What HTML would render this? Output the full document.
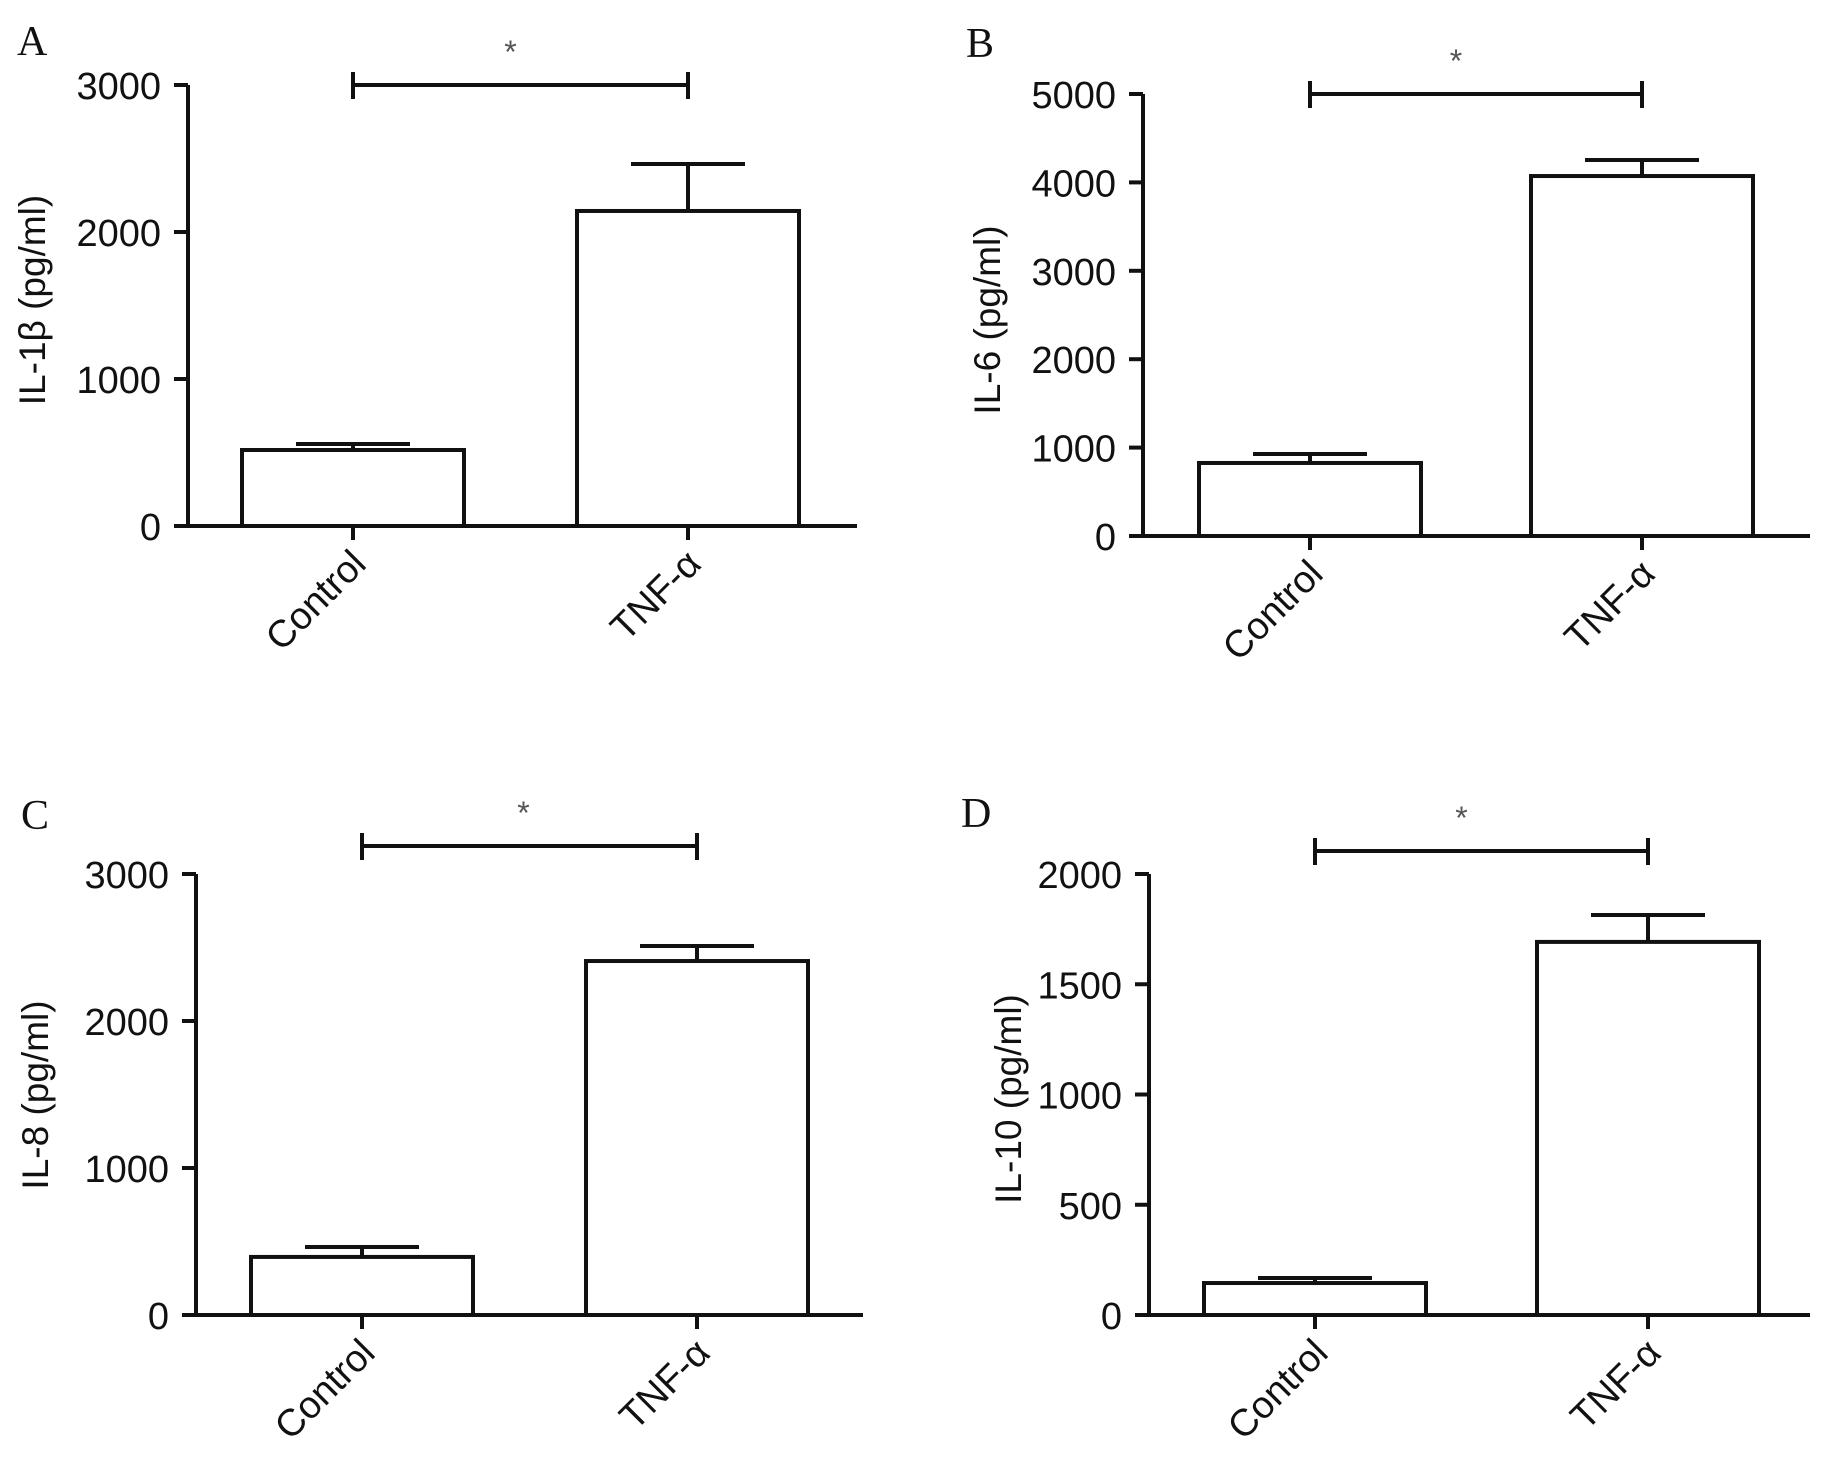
<!DOCTYPE html>
<html><head><meta charset="utf-8"><style>
html,body{margin:0;padding:0;background:#fff;}
svg{display:block;}
text{font-family:"Liberation Sans",sans-serif;fill:#111;}
.letter{font-family:"Liberation Serif",serif;font-size:42px;}
</style></head><body>
<svg id="fig" width="1824" height="1457" viewBox="0 0 1824 1457" xmlns="http://www.w3.org/2000/svg"></svg>
<script>
const categories = ["Control", "TNF-\u03b1"];
const il1bValues = [517, 2143];
const il1bErrors = [41, 320];
const il6Values = [826, 4072];
const il6Errors = [102, 181];
const il8Values = [395, 2408];
const il8Errors = [68, 102];
const il10Values = [145, 1692];
const il10Errors = [23, 122];
const il1bTicks = [0, 1000, 2000, 3000];
const il6Ticks = [0, 1000, 2000, 3000, 4000, 5000];
const il8Ticks = [0, 1000, 2000, 3000];
const il10Ticks = [0, 500, 1000, 1500, 2000];

const NS = "http://www.w3.org/2000/svg";
const svg = document.getElementById("fig");
function mk(tag, attrs, parent) {
  const e = document.createElementNS(NS, tag);
  for (const k in attrs) e.setAttribute(k, attrs[k]);
  (parent || svg).appendChild(e);
  return e;
}

const panels = [
  {letter:"A", title:"IL-1\u03b2 (pg/ml)", vals:il1bValues, errs:il1bErrors, ticks:il1bTicks,
   ax:188, y0:526, ytop:85, xend:857, cx:[353,688], bw:222, lx:17, ly:55, tx:32, ty:300, sigY:85},
  {letter:"B", title:"IL-6 (pg/ml)", vals:il6Values, errs:il6Errors, ticks:il6Ticks,
   ax:1143, y0:536, ytop:94, xend:1810, cx:[1310,1642], bw:222, lx:966, ly:57, tx:987, ty:320, sigY:94},
  {letter:"C", title:"IL-8 (pg/ml)", vals:il8Values, errs:il8Errors, ticks:il8Ticks,
   ax:196, y0:1315, ytop:874, xend:863, cx:[362,697], bw:222, lx:21, ly:829, tx:35, ty:1095, sigY:846},
  {letter:"D", title:"IL-10 (pg/ml)", vals:il10Values, errs:il10Errors, ticks:il10Ticks,
   ax:1149, y0:1315, ytop:874, xend:1810, cx:[1315,1648], bw:222, lx:961, ly:827, tx:1008, ty:1099, sigY:851}
];

panels.forEach((p, pi) => {
  const g = mk("g", {});
  
  
  const maxV = p.ticks[p.ticks.length - 1];
  const y = v => p.y0 - (v / maxV) * (p.y0 - p.ytop);

  const lt = mk("text", {x:p.lx, y:p.ly, class:"letter"}, g);
  lt.textContent = p.letter;
  
  

  const ya = mk("line", {x1:p.ax, y1:y(maxV), x2:p.ax, y2:p.y0, stroke:"#111", "stroke-width":4}, g);
  
  
  p.ticks.forEach(t => {
    const tk = mk("line", {x1:p.ax-14, y1:y(t), x2:p.ax, y2:y(t), stroke:"#111", "stroke-width":4}, g);
    
    
    const tl = mk("text", {x:p.ax-27, y:y(t)+14, "text-anchor":"end", "font-size":38}, g);
    tl.textContent = t;
    
    
  });
  const yt = mk("text", {x:0, y:0, "text-anchor":"middle", "font-size":37, transform:`translate(${p.tx+13},${p.ty}) rotate(-90)`}, g);
  yt.textContent = p.title;
  
  

  p.vals.forEach((v, i) => {
    const cx = p.cx[i];
    const bar = mk("rect", {x:cx - p.bw/2, y:y(v), width:p.bw, height:p.y0 - y(v), fill:"#fff", stroke:"#111", "stroke-width":4}, g);
    
    
    const et = y(v + p.errs[i]);
    const ev = mk("line", {x1:cx, y1:y(v), x2:cx, y2:et, stroke:"#111", "stroke-width":4}, g);
    
    
    const ec = mk("line", {x1:cx-57, y1:et, x2:cx+57, y2:et, stroke:"#111", "stroke-width":4}, g);
    
    
  });

  const xa = mk("line", {x1:p.ax-14, y1:p.y0, x2:p.xend, y2:p.y0, stroke:"#111", "stroke-width":4}, g);
  
  
  categories.forEach((c, i) => {
    const cx = p.cx[i];
    const tk = mk("line", {x1:cx, y1:p.y0, x2:cx, y2:p.y0+14, stroke:"#111", "stroke-width":4}, g);
    
    
    const cl = mk("text", {x:0, y:0, "text-anchor":"end", "font-size":38, transform:`translate(${cx+15},${p.y0+40}) rotate(-45)`}, g);
    cl.textContent = c;
    
    
  });

  const sb = mk("line", {x1:p.cx[0], y1:p.sigY, x2:p.cx[1], y2:p.sigY, stroke:"#111", "stroke-width":4}, g);
  
  
  [0,1].forEach(i => {
    const e = mk("line", {x1:p.cx[i], y1:p.sigY-13, x2:p.cx[i], y2:p.sigY+14, stroke:"#111", "stroke-width":4}, g);
    
    
  });
  const st = mk("text", {x:(p.cx[0]+p.cx[1])/2 - 10 + (pi%2?-10:0) + (pi===2?4:0), y:p.sigY - 22, "text-anchor":"middle", "font-size":32, style:"fill:#555"}, g);
  st.textContent = "*";
  
  
});
</script>
</body></html>
